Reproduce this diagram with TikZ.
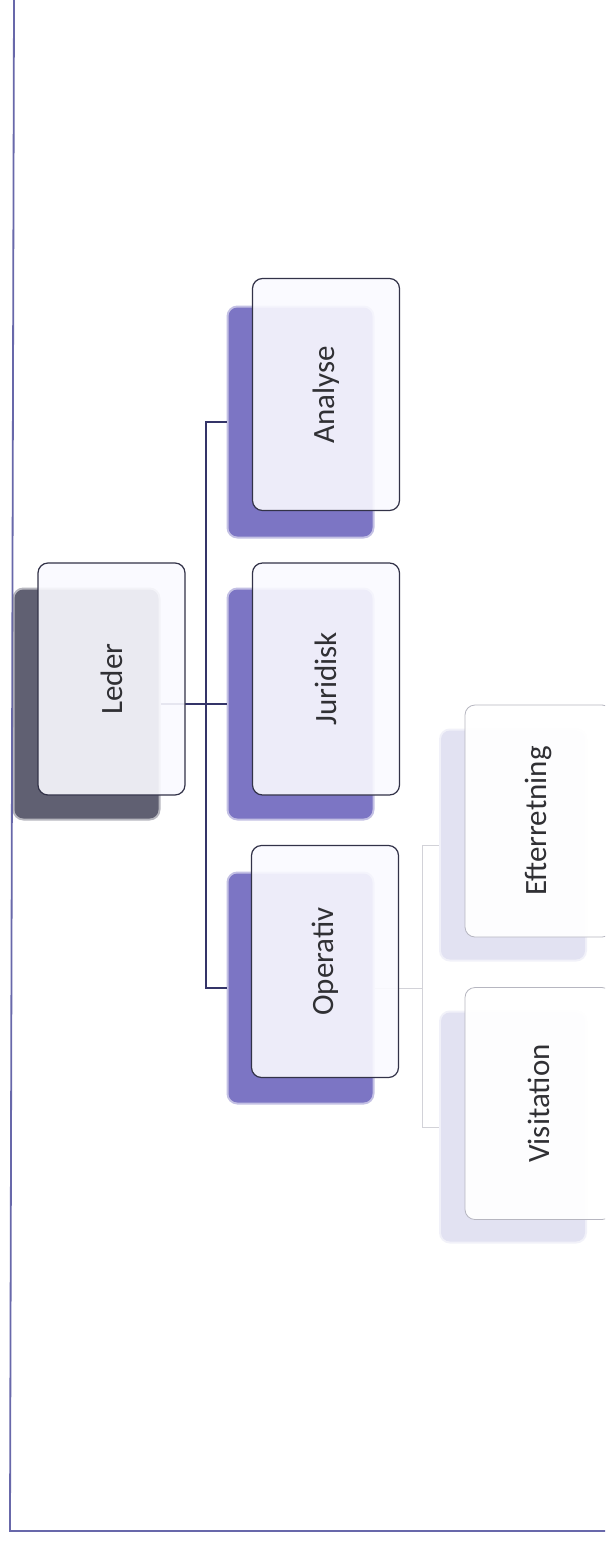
\documentclass[tikz,border=0pt]{standalone}
\usepackage{fontspec}
\setmainfont{Carlito}
\definecolor{framec}{RGB}{104,104,170}
\definecolor{connc}{RGB}{52,52,104}
\definecolor{subconnc}{RGB}{210,210,216}
\definecolor{ledershadow}{RGB}{96,96,114}
\definecolor{midshadow}{RGB}{124,117,196}
\definecolor{subshadow}{RGB}{226,226,242}
\definecolor{frontborder}{RGB}{50,50,72}
\definecolor{subborder}{RGB}{182,182,192}
\definecolor{frontfill}{RGB}{250,250,255}
\definecolor{textc}{RGB}{48,48,52}
\begin{document}
\begin{tikzpicture}[x=1pt,y=-1pt,
  shadowbox/.style={rectangle, rounded corners=9pt, inner sep=0pt,
    minimum width=144pt, minimum height=229pt, fill=#1, draw=#1, draw opacity=0.45, line width=4pt},
  frontbox/.style={rectangle, rounded corners=10pt, inner sep=0pt,
    minimum width=147pt, minimum height=232pt, fill=frontfill, fill opacity=0.9, text opacity=1,
    draw=frontborder, line width=1.2pt, text=textc, font=\fontsize{31}{31}\selectfont},
  subfront/.style={frontbox, fill=white, draw=subborder, line width=0.8pt, fill opacity=0.95},
  conn/.style={draw=connc, line width=1.5pt},
  subconn/.style={draw=subconnc, line width=0.8pt}]
\useasboundingbox (0,0) rectangle (605,1541);
\clip (0,0) rectangle (605,1541);
\fill[white] (0,0) rectangle (605,1541);
% frame
\draw[framec, line width=1.8pt] (14,0) -- (10,1531) -- (605,1531);
% shadows
\node[shadowbox=ledershadow] (leder-s) at (86.5,704) {};
\node[shadowbox=midshadow] (analyse-s) at (300.5,422) {};
\node[shadowbox=midshadow] (juridisk-s) at (300.5,704) {};
\node[shadowbox=midshadow] (operativ-s) at (300.5,988) {};
\node[shadowbox=subshadow] (efter-s) at (513,845) {};
\node[shadowbox=subshadow] (visit-s) at (513,1127) {};
% connectors
\coordinate (bus) at (206,704);
\coordinate (bus2) at (422,988);
\draw[conn] (leder-s.east) -- (bus);
\draw[conn] (bus) |- (analyse-s.west);
\draw[conn] (bus) -- (juridisk-s.west);
\draw[conn] (bus) |- (operativ-s.west);
\draw[subconn] (operativ-s.east) -- (bus2);
\draw[subconn] (bus2) |- (efter-s.west);
\draw[subconn] (bus2) |- (visit-s.west);
% front boxes
\node[frontbox] (leder) at (111.5,679) {\rotatebox{90}{Leder}};
\node[frontbox] (analyse) at (326,394.5) {\rotatebox{90}{Analyse}};
\node[frontbox] (juridisk) at (326,679) {\rotatebox{90}{Juridisk}};
\node[frontbox] (operativ) at (325,961.5) {\rotatebox{90}{Operativ}};
\node[subfront] (efter) at (538.5,821) {\rotatebox{90}{Efterretning}};
\node[subfront] (visit) at (538.5,1103.5) {\rotatebox{90}{Visitation}};
\end{tikzpicture}
\end{document}
